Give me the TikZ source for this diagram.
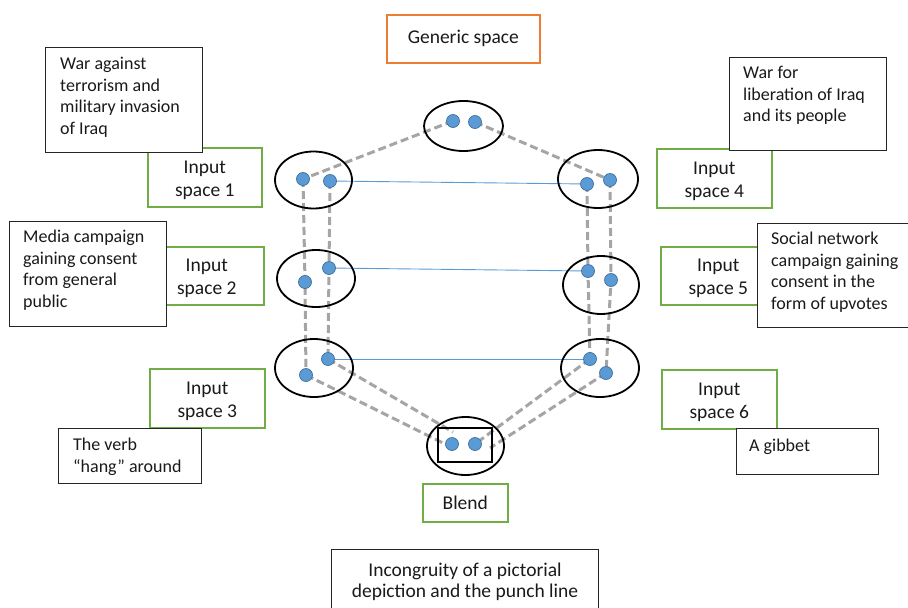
\documentclass[tikz,border=0pt]{standalone}
\usepackage{fontspec}
\setmainfont{Carlito}
\usetikzlibrary{calc,shapes.geometric,backgrounds}
\definecolor{dotfill}{HTML}{5B9BD5}
\definecolor{dotline}{HTML}{41719C}
\definecolor{dashgray}{HTML}{A5A5A5}
\definecolor{boxgreen}{HTML}{70AD47}
\definecolor{boxorange}{HTML}{ED7D31}
\definecolor{txt}{HTML}{1A1A1A}
\definecolor{linkblue}{HTML}{5B9BD5}
\newcommand{\toppad}{\rule{0pt}{18.5pt}}
\begin{document}
\begin{tikzpicture}[x=1pt,y=-1pt,
  every node/.style={font=\fontsize{18}{21.5}\selectfont, text=txt},
  bigfont/.style={font=\fontsize{19.5}{23}\selectfont},
  spaceell/.style={ellipse, draw=black, line width=1.8pt, inner sep=0pt},
  dot/.style={circle, fill=dotfill, draw=dotline, line width=0.7pt, minimum size=13pt, inner sep=0pt},
  dashline/.style={draw=dashgray, line width=3pt, dash pattern=on 8pt off 4pt},
  bluelink/.style={draw=linkblue, line width=0.9pt},
  inbox/.style={draw=boxgreen, line width=1.6pt, fill=white, anchor=north west, inner sep=0pt, align=center, bigfont},
  genbox/.style={draw=boxorange, line width=1.6pt, fill=white, anchor=north west, inner sep=0pt, align=center, bigfont},
  descbox/.style={draw=black!85, line width=1.2pt, fill=white, anchor=north west, inner sep=0pt},
  desctext/.style={anchor=north west, align=left, inner sep=0pt}
]
\useasboundingbox (0,0) rectangle (908,608);

% ellipses (mental spaces)
\node[spaceell, minimum width=79pt, minimum height=50pt] (eg) at (463.5,126) {};
\node[spaceell, minimum width=77pt, minimum height=57pt] (e1) at (313.5,180) {};
\node[spaceell, minimum width=78pt, minimum height=57pt] (e2) at (316,278.5) {};
\node[spaceell, minimum width=78pt, minimum height=58pt] (e3) at (314,368) {};
\node[spaceell, minimum width=80pt, minimum height=58pt] (e4) at (598,179) {};
\node[spaceell, minimum width=76pt, minimum height=58pt] (e5) at (601,285) {};
\node[spaceell, minimum width=78pt, minimum height=58pt] (e6) at (600,368) {};
\node[spaceell, minimum width=77pt, minimum height=58pt] (eb) at (465.5,446) {};
\node[draw=black, line width=1.5pt, minimum width=54pt, minimum height=34pt, inner sep=0pt] (brect) at (465,445) {};

% dots
\node[dot] (g1) at (453,121) {};
\node[dot] (g2) at (475,122) {};
\node[dot] (p1a) at (303,179) {};
\node[dot] (p1b) at (330,181) {};
\node[dot] (p2a) at (305,282) {};
\node[dot] (p2b) at (329,268) {};
\node[dot] (p3a) at (306,375) {};
\node[dot] (p3b) at (328,359) {};
\node[dot] (p4a) at (587,184) {};
\node[dot] (p4b) at (610,180) {};
\node[dot] (p5a) at (588,271) {};
\node[dot] (p5b) at (611,280) {};
\node[dot] (p6a) at (590,359) {};
\node[dot] (p6b) at (606,373) {};
\node[dot] (q1) at (452,444) {};
\node[dot] (q2) at (475,444) {};
\coordinate (ql1) at (453,432);
\coordinate (ql2) at (447,445);
\coordinate (qr2) at (490,448);

\begin{pgfonlayer}{background}
  \draw[dashline] (g1.center) -- (p1a.center);
  \draw[dashline] (g2.center) -- (p4b.center);
  \draw[dashline] (p1a.center) -- (p2a.center) -- (p3a.center);
  \draw[dashline] (p1b.center) -- (p2b.center) -- (p3b.center);
  \draw[dashline] (p4a.center) -- (p5a.center) -- (p6a.center);
  \draw[dashline] (p4b.center) -- (p5b.center) -- (p6b.center);
  \draw[dashline] (p3b.center) -- (ql1);
  \draw[dashline] (p3a.center) -- (ql2);
  \draw[dashline] (p6a.center) -- (q2.center);
  \draw[dashline] (p6b.center) -- (qr2);
  \draw[bluelink] (p1b.center) -- (p4a.center);
  \draw[bluelink] (p2b.center) -- (p5a.center);
  \draw[bluelink] (p3b.center) -- (p6a.center);
\end{pgfonlayer}

% labels of spaces
\node[genbox, minimum width=153pt, minimum height=48pt] (gen) at (386,14) {Generic space};
\node[inbox, minimum width=114pt, minimum height=59pt] (in1) at (147,147) {\toppad Input\\space 1};
\node[inbox, minimum width=114pt, minimum height=58pt] (in2) at (149,246) {\toppad Input\\space 2};
\node[inbox, minimum width=115pt, minimum height=59pt] (in3) at (149,368) {\toppad Input\\space 3};
\node[inbox, minimum width=115pt, minimum height=59pt] (in4) at (656,148) {\toppad Input\\space 4};
\node[inbox, minimum width=115pt, minimum height=58pt] (in5) at (660,246) {\toppad Input\\space 5};
\node[inbox, minimum width=115pt, minimum height=59pt] (in6) at (661,369) {\toppad Input\\space 6};
\node[inbox, minimum width=85pt, minimum height=38pt] (blend) at (422,483) {Blend};

% description boxes
\node[descbox, minimum width=157pt, minimum height=105pt] (dA) at (45,47) {};
\node[desctext] (tA) at (60,57) {War against\\terrorism and\\military invasion\\of Iraq};
\node[descbox, minimum width=157pt, minimum height=93pt] (dB) at (729,57) {};
\node[desctext] (tB) at (743,66) {War for\\liberation of Iraq\\and its people};
\node[descbox, minimum width=157pt, minimum height=105pt] (dC) at (9,221) {};
\node[desctext] (tC) at (23,230) {Media campaign\\gaining consent\\from general\\public};
\node[descbox, minimum width=151pt, minimum height=104pt] (dD) at (757,223) {};
\node[desctext] (tD) at (771,232) {Social network\\campaign gaining\\consent in the\\form of upvotes};
\node[descbox, minimum width=143pt, minimum height=55pt] (dE) at (58,428) {};
\node[desctext] (tE) at (73,438) {The verb\\“hang” around};
\node[descbox, minimum width=142pt, minimum height=46pt] (dF) at (736,428) {};
\node[desctext] (tF) at (749,439) {A gibbet};
\node[descbox, minimum width=267pt, minimum height=70pt] (dG) at (331,549) {};
\node[anchor=north, align=center, inner sep=0pt, font=\fontsize{19.5}{21}\selectfont] (tG) at (465,563) {Incongruity of a pictorial\\depiction and the punch line};
\end{tikzpicture}
\end{document}
